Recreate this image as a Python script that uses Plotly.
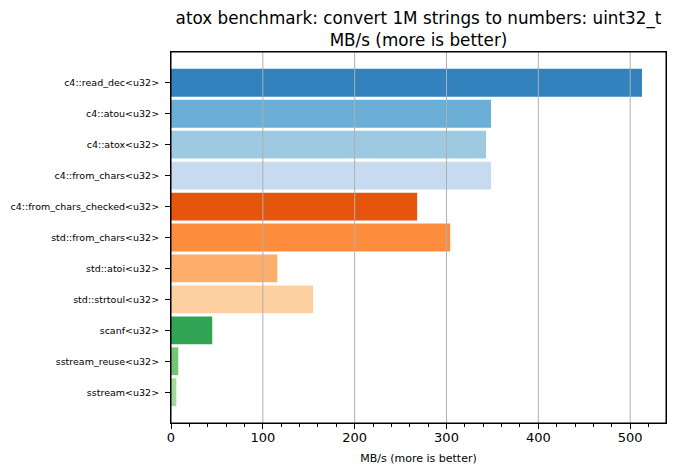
import plotly.graph_objects as go

categories = [
    "c4::read_dec<u32>", "c4::atou<u32>", "c4::atox<u32>", "c4::from_chars<u32>",
    "c4::from_chars_checked<u32>", "std::from_chars<u32>", "std::atoi<u32>",
    "std::strtoul<u32>", "scanf<u32>", "sstream_reuse<u32>", "sstream<u32>",
]
values = [512.8, 348.5, 343.1, 348.5, 268.0, 304.0, 115.7, 154.8, 44.9, 7.9, 5.8]
colors = ["#3182bd", "#6baed6", "#9ecae1", "#c6dbef", "#e6550d", "#fd8d3c",
          "#fdae6b", "#fdd0a2", "#31a354", "#74c476", "#a1d99b"]
x_ticks = [0, 100, 200, 300, 400, 500]

FONT = "DejaVu Sans"

fig = go.Figure(go.Bar(
    x=values, y=categories, orientation="h",
    marker=dict(color=colors, line=dict(width=0)),
    width=0.9, showlegend=False, hoverinfo="x+y",
))

shapes = [dict(type="line", xref="x", yref="paper", x0=t, x1=t, y0=0, y1=1,
               line=dict(color="#b0b0b0", width=1), layer="above")
          for t in x_ticks if t > 0]
# axes frame (matplotlib-style box)
shapes.append(dict(type="rect", xref="paper", yref="paper", x0=0, x1=1, y0=0, y1=1,
                   line=dict(color="black", width=1), fillcolor="rgba(0,0,0,0)", layer="above"))

fig.update_layout(
    width=660, height=459,
    margin=dict(l=163, r=2, t=44, b=44),
    paper_bgcolor="white", plot_bgcolor="white",
    font=dict(family=FONT, color="black"),
    title=dict(text="atox benchmark: convert 1M strings to numbers: uint32_t<br>MB/s (more is better)",
               x=0.5, xref="paper", xanchor="center", y=0.965, yanchor="top",
               font=dict(size=16.8, family=FONT)),
    shapes=shapes,
    xaxis=dict(
        range=[0, 539], tickvals=x_ticks, ticks="outside", ticklen=5, tickwidth=1,
        tickcolor="black", showline=True, linecolor="black", linewidth=1, mirror=True,
        showgrid=False, zeroline=False, tickfont=dict(size=13, family=FONT),
        ticklabelstandoff=-3,
        title=dict(text="MB/s (more is better)", font=dict(size=11, family=FONT), standoff=10),
        minor=dict(ticks="outside", dtick=20, tick0=0, ticklen=3, tickcolor="black", showgrid=False),
    ),
    yaxis=dict(
        categoryorder="array", categoryarray=categories,
        range=[10.995, -0.995], ticks="outside", ticklen=5, tickcolor="black",
        showline=True, linecolor="black", linewidth=1, mirror=True,
        showgrid=False, zeroline=False, tickfont=dict(size=9.5, family=FONT),
        ticklabelstandoff=4,
    ),
)

fig.write_html("out.html")
